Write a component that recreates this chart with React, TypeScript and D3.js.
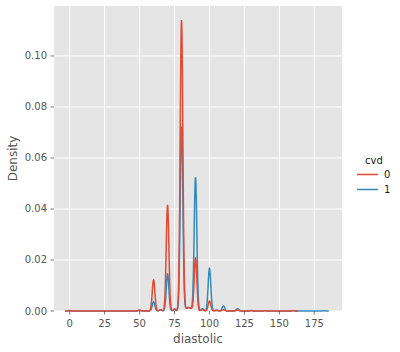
import React from 'react';
import * as d3 from 'd3';

// diastolic values where the density piles up, and the peak density read for each cvd group
const diastolicValues = [0, 50, 60, 65, 70, 75, 80, 83, 85, 87, 90, 95, 100, 105, 110, 120, 130, 140, 160, 182];
const cvd0Density = [0.0002, 0.0004, 0.0122, 0.0005, 0.0416, 0.0008, 0.1141, 0.0008, 0.0012, 0.0008, 0.0207, 0.0005, 0.0039, 0.0002, 0.0005, 0.0003, 0.0001, 0.0001, 0.0001, 0];
const cvd1Density = [0.0001, 0.0002, 0.0036, 0.0004, 0.0145, 0.0005, 0.0723, 0.0008, 0.0012, 0.0008, 0.0524, 0.0009, 0.0167, 0.0004, 0.002, 0.0009, 0.0002, 0.0001, 0.0001, 0.0001];
const cvdLevels = ['0', '1'];
const cvdMin = [0, 0];
const cvdMax = [160, 182];

const xTicks = [0, 25, 50, 75, 100, 125, 150, 175];
const yTicks = [0, 0.02, 0.04, 0.06, 0.08, 0.1];

const colors = ['#E24A33', '#348ABD'];
const bandwidth = 0.95;
const cut = 3.4;

const W = 400;
const H = 352;
const margin = { left: 54, right: 58, top: 6, bottom: 41 };

const densityCurve = (weights: number[], lo: number, hi: number) => {
  const grid = d3.range(lo - cut, hi + cut + 0.001, 0.1);
  return grid.map((x) => {
    let y = 0;
    diastolicValues.forEach((v, i) => {
      y += weights[i] * Math.exp(-((x - v) ** 2) / (2 * bandwidth * bandwidth));
    });
    return [x, y] as [number, number];
  });
};

const App = () => {
  const x = d3.scaleLinear().domain([-11.23, 194.8]).range([margin.left, W - margin.right]);
  const y = d3.scaleLinear().domain([0, 0.1196]).range([H - margin.bottom, margin.top]);
  const line = d3.line<[number, number]>().x((d) => x(d[0])).y((d) => y(d[1]));

  const curves = [cvd0Density, cvd1Density].map((w, i) => densityCurve(w, cvdMin[i], cvdMax[i]));
  const font = 'DejaVu Sans, sans-serif';
  const x0 = margin.left;
  const x1 = W - margin.right;
  const y0 = H - margin.bottom;

  return (
    <svg width={W} height={H} style={{ position: 'absolute', left: 0, top: 0 }} fontFamily={font}>
      <rect x={x0} y={margin.top} width={x1 - x0} height={y0 - margin.top} fill="#E5E5E5" />
      {xTicks.map((t) => (
        <line key={'gx' + t} x1={x(t)} x2={x(t)} y1={margin.top} y2={y0} stroke="#fff" strokeWidth={1} />
      ))}
      {yTicks.map((t) => (
        <line key={'gy' + t} x1={x0} x2={x1} y1={y(t)} y2={y(t)} stroke="#fff" strokeWidth={1} />
      ))}
      {/* draw group 1 first so group 0 sits on top, like seaborn */}
      {[1, 0].map((i) => (
        <path key={'c' + i} d={line(curves[i]) || ''} fill="none" stroke={colors[i]} strokeWidth={1.5} />
      ))}
      {xTicks.map((t) => (
        <g key={'tx' + t}>
          <line x1={x(t)} x2={x(t)} y1={y0} y2={y0 + 3.5} stroke="#555" strokeWidth={0.8} />
          <text x={x(t)} y={y0 + 16} textAnchor="middle" fontSize={10} fill="#555">{t}</text>
        </g>
      ))}
      {yTicks.map((t) => (
        <g key={'ty' + t}>
          <line x1={x0 - 3.5} x2={x0} y1={y(t)} y2={y(t)} stroke="#555" strokeWidth={0.8} />
          <text x={x0 - 7} y={y(t) + 3.5} textAnchor="end" fontSize={10} fill="#555">{d3.format('.2f')(t)}</text>
        </g>
      ))}
      <text x={(x0 + x1) / 2} y={343} textAnchor="middle" fontSize={12} fill="#555">diastolic</text>
      <text transform={`translate(17,${(margin.top + y0) / 2}) rotate(-90)`} textAnchor="middle" fontSize={12} fill="#555">Density</text>
      <text x={374} y={164} textAnchor="middle" fontSize={10} fill="#222">cvd</text>
      {cvdLevels.map((lv, i) => (
        <g key={'lg' + lv}>
          <line x1={357} x2={378} y1={174.5 + i * 15} y2={174.5 + i * 15} stroke={colors[i]} strokeWidth={1.5} />
          <text x={384} y={178 + i * 15} fontSize={10} fill="#222">{lv}</text>
        </g>
      ))}
    </svg>
  );
};

export default App;
